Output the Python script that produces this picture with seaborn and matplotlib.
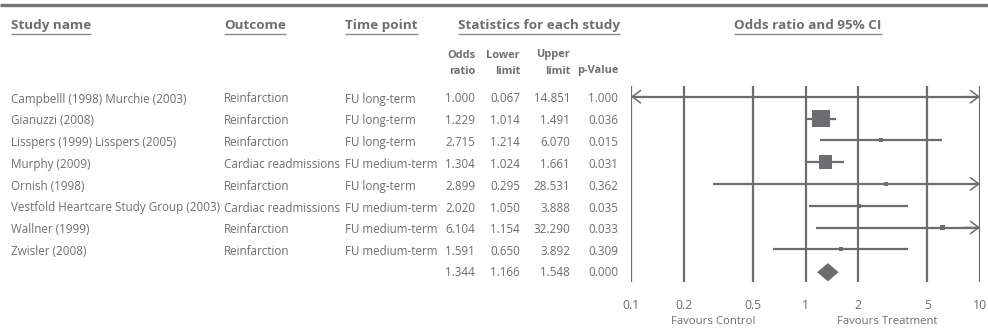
import numpy as np
import pandas as pd
import matplotlib
matplotlib.use("Agg")
import matplotlib.pyplot as plt
import seaborn as sns

# ---------------- data ----------------
studies = ["Campbelll (1998) Murchie (2003)", "Gianuzzi (2008)",
           "Lisspers (1999) Lisspers (2005)", "Murphy (2009)", "Ornish (1998)",
           "Vestfold Heartcare Study Group (2003)", "Wallner (1999)", "Zwisler (2008)"]
outcomes = ["Reinfarction", "Reinfarction", "Reinfarction", "Cardiac readmissions",
            "Reinfarction", "Cardiac readmissions", "Reinfarction", "Reinfarction"]
timepoints = ["FU long-term", "FU long-term", "FU long-term", "FU medium-term",
              "FU long-term", "FU medium-term", "FU medium-term", "FU medium-term"]
odds = [1.000, 1.229, 2.715, 1.304, 2.899, 2.020, 6.104, 1.591]
lower = [0.067, 1.014, 1.214, 1.024, 0.295, 1.050, 1.154, 0.650]
upper = [14.851, 1.491, 6.070, 1.661, 28.531, 3.888, 32.290, 3.892]
pvals = [1.000, 0.036, 0.015, 0.031, 0.362, 0.035, 0.033, 0.309]
weights = [0.4, 45, 2.6, 25, 1.6, 2.6, 2.6, 2.6]
summary_or, summary_lo, summary_hi, summary_p = 1.344, 1.166, 1.548, 0.000
tick_values = [0.1, 0.2, 0.5, 1, 2, 5, 10]
tick_labels = ["0.1", "0.2", "0.5", "1", "2", "5", "10"]
favours = ["Favours Control", "Favours Treatment"]

df = pd.DataFrame({"study": studies, "or": odds, "lo": lower, "hi": upper,
                   "p": pvals, "w": weights})
df["row"] = np.arange(len(df))

# ---------------- style ----------------
sns.set_theme(style="white")
FONT = ["Open Sans", "DejaVu Sans"]
plt.rcParams["font.family"] = FONT
GRAY = "#6d6d71"
TXT = "#6e6e6e"
W, H, DPI = 988, 331, 100

fig = plt.figure(figsize=(W / DPI, H / DPI), dpi=DPI)
tax = fig.add_axes([0, 0, 1, 1])
tax.set_xlim(0, W)
tax.set_ylim(H, 0)
tax.axis("off")

# top rule
tax.plot([0, W], [5, 5], color="#757575", lw=2.4, solid_capstyle="butt")

# headers
hdr_fs = 9.7
headers = [("Study name", 11, "left"), ("Outcome", 224, "left"),
           ("Time point", 345, "left"), ("Statistics for each study", 458, "left"),
           ("Odds ratio and 95% CI", 808, "center")]
hdr_texts = []
for label, x, ha in headers:
    t = tax.text(x, 25.5, label, ha=ha, va="center", fontsize=hdr_fs,
                 fontweight="bold", color=TXT)
    hdr_texts.append(t)

sub_fs = 7.9
col_x = [475, 520, 570, 618]
sub_top = ["Odds", "Lower", "Upper", ""]
sub_bot = ["ratio", "limit", "limit", "p-Value"]
for x, a, b in zip(col_x, sub_top, sub_bot):
    if a:
        tax.text(x, 55, a, ha="right", va="center", fontsize=sub_fs,
                 fontweight="bold", color=TXT)
    tax.text(x, 71, b, ha="right", va="center", fontsize=sub_fs,
             fontweight="bold", color=TXT)

# rows of text
row0, dy = 96.7, 21.8
txt_fs = 8.4
for i, r in df.iterrows():
    y = row0 + dy * i + 2.3
    tax.text(11, y, r["study"], ha="left", va="center", fontsize=txt_fs, color=TXT)
    tax.text(224, y, outcomes[i], ha="left", va="center", fontsize=txt_fs, color=TXT)
    tax.text(345, y, timepoints[i], ha="left", va="center", fontsize=txt_fs, color=TXT)
    for x, v in zip(col_x, [r["or"], r["lo"], r["hi"], r["p"]]):
        tax.text(x, y, f"{v:.3f}", ha="right", va="center", fontsize=txt_fs, color=TXT)
ys = row0 + dy * len(df) + 1.8
for x, v in zip(col_x, [summary_or, summary_lo, summary_hi, summary_p]):
    tax.text(x, ys, f"{v:.3f}", ha="right", va="center", fontsize=txt_fs, color=TXT)

# ---------------- forest axes ----------------
x0, x1 = 631, 980
ytop, ybot = 86, 282
ax = fig.add_axes([x0 / W, 1 - ybot / H, (x1 - x0) / W, (ybot - ytop) / H])
ax.set_xscale("log")
xmin, xmax = tick_values[0], tick_values[-1]
ax.set_xlim(xmin, xmax)
ax.set_ylim((ybot - row0) / dy, (ytop - row0) / dy)
for s in ax.spines.values():
    s.set_visible(False)
ax.set_yticks([])
ax.set_xticks(tick_values)
ax.set_xticklabels(tick_labels)
ax.xaxis.set_minor_locator(matplotlib.ticker.NullLocator())
ax.tick_params(axis="x", length=0, pad=12, labelsize=8.8, labelcolor=TXT)
ax.set_facecolor("none")
for v in tick_values:
    ax.axvline(v, color=GRAY, lw=1.6, zorder=1)

# CI lines (clipped, with open arrowheads where beyond range)
for i, r in df.iterrows():
    lo_c = max(r["lo"], xmin)
    hi_c = min(r["hi"], xmax)
    ax.plot([lo_c, hi_c], [r["row"], r["row"]], color=GRAY, lw=1.6,
            zorder=2, solid_capstyle="butt")
    head = dict(arrowstyle="->,head_length=0.6,head_width=0.45", color=GRAY,
                lw=1.1, mutation_scale=10, shrinkA=0, shrinkB=0)
    if r["hi"] > xmax:
        ax.annotate("", xy=(xmax, r["row"]), xytext=(xmax * 0.8, r["row"]),
                    arrowprops=head, zorder=3)
    if r["lo"] < xmin:
        ax.annotate("", xy=(xmin, r["row"]), xytext=(xmin * 1.25, r["row"]),
                    arrowprops=head, zorder=3)

# squares sized by weight
side_px = 2.68 * np.sqrt(df["w"].to_numpy())
df["size"] = (side_px * 72 / DPI) ** 2
sns.scatterplot(data=df, x="or", y="row", size="size",
                sizes=(df["size"].min(), df["size"].max()),
                marker="s", color=GRAY, edgecolor="none", legend=False, ax=ax, zorder=4)
ax.set_xlabel("")
ax.set_ylabel("")

# summary diamond
srow = len(df) + 0.05
hh = 0.42
ax.fill([summary_lo, summary_or, summary_hi, summary_or],
        [srow, srow - hh, srow, srow + hh], color=GRAY, lw=0, zorder=4)

# favours labels
tax.text(713, 321, favours[0], ha="center", va="center", fontsize=8.2, color=TXT)
tax.text(887, 321, favours[1], ha="center", va="center", fontsize=8.2, color=TXT)

# underlines for headers
fig.canvas.draw()
rend = fig.canvas.get_renderer()
inv = tax.transData.inverted()
for t in hdr_texts:
    bb = t.get_window_extent(renderer=rend)
    (ax0, _), (ax1_, _) = inv.transform([(bb.x0, bb.y0), (bb.x1, bb.y0)])
    tax.plot([ax0, ax1_], [34, 34], color="#8a8a8a", lw=1.0, solid_capstyle="butt")

fig.savefig("out.png", dpi=DPI)
